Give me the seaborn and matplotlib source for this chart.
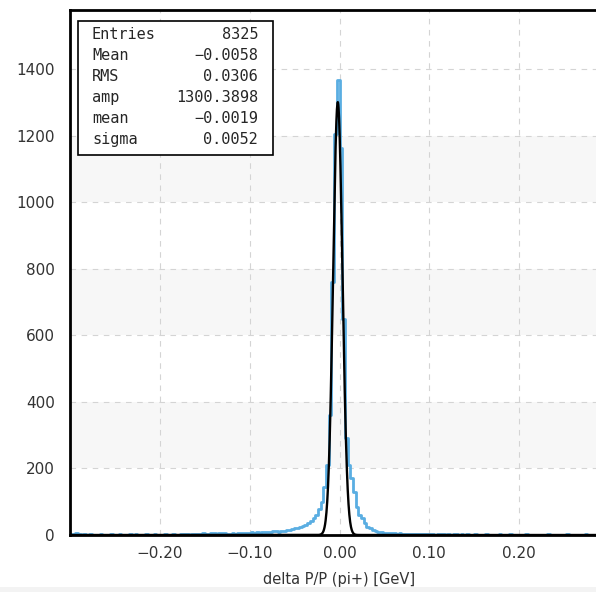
import numpy as np
import pandas as pd
import seaborn as sns
import matplotlib.pyplot as plt
from matplotlib.patches import Rectangle

# histogram: 200 bins from -0.3 to 0.3 (counts)
x_lo, x_hi, n_bins = -0.3, 0.3, 200
counts = [
    2, 3, 6, 4, 1, 2, 1, 2, 1, 0,
    1, 2, 1, 1, 0, 2, 1, 1, 3, 1,
    1, 0, 2, 1, 2, 1, 0, 1, 2, 1,
    1, 2, 1, 0, 1, 2, 1, 1, 2, 1,
    1, 2, 3, 2, 1, 2, 2, 3, 4, 5,
    3, 4, 6, 5, 4, 7, 6, 5, 4, 3,
    5, 4, 6, 5, 7, 6, 5, 8, 6, 9,
    7, 9, 8, 10, 9, 11, 12, 10, 13, 12,
    14, 15, 18, 20, 22, 24, 26, 30, 36, 42,
    50, 60, 78, 100, 145, 210, 360, 760, 1206, 1367,
    1161, 650, 290, 210, 170, 130, 84, 60, 50, 35,
    25, 20, 15, 12, 9, 8, 7, 6, 6, 5,
    5, 4, 5, 3, 4, 3, 4, 3, 2, 3,
    2, 3, 2, 2, 3, 1, 2, 3, 2, 1,
    2, 1, 2, 2, 1, 2, 1, 2, 1, 1,
    2, 1, 0, 1, 2, 1, 1, 0, 1, 2,
    1, 1, 0, 2, 1, 1, 0, 1, 1, 2,
    1, 0, 1, 1, 0, 1, 1, 2, 1, 0,
    1, 1, 0, 1, 2, 1, 0, 1, 1, 0,
    1, 2, 1, 0, 1, 1, 0, 1, 1, 0,
]

# gaussian fit result
fit_amp, fit_mean, fit_sigma = 1300.3898, -0.0019, 0.0052

stat_names = ["Entries", "Mean", "RMS", "amp", "mean", "sigma"]
stat_values = ["8325", "\u22120.0058", "0.0306", "1300.3898", "\u22120.0019", "0.0052"]

x_ticks = [-0.2, -0.1, 0.0, 0.1, 0.2]
x_tick_labels = ["\u22120.20", "\u22120.10", "0.00", "0.10", "0.20"]
y_ticks = [0, 200, 400, 600, 800, 1000, 1200, 1400]
bands = [(200, 400), (600, 800), (1000, 1200)]

blue = "#5aaee2"

sns.set_theme(style="white")
plt.rcParams["font.family"] = ["DejaVu Sans"]

fig = plt.figure(figsize=(5.96, 5.92), dpi=100)
ax = fig.add_axes([70 / 596, 57 / 592, 539 / 596, 525 / 592])

# light bands behind the plot
for lo, hi in bands:
    ax.axhspan(lo, hi, color="#f7f7f7", lw=0, zorder=0)

edges = np.linspace(x_lo, x_hi, n_bins + 1)
df = pd.DataFrame({"x": (edges[:-1] + edges[1:]) / 2, "n": counts})
sns.histplot(data=df, x="x", weights="n", bins=n_bins, binrange=(x_lo, x_hi),
             element="step", fill=False, color=blue, linewidth=2.0, ax=ax, zorder=2)

# fit curve
xs = np.linspace(x_lo, x_hi, 2000)
ys = fit_amp * np.exp(-0.5 * ((xs - fit_mean) / fit_sigma) ** 2)
sns.lineplot(x=xs, y=ys, color="black", linewidth=1.7, ax=ax, zorder=3)

ax.set_xlim(x_lo, x_hi)
ax.set_ylim(0, 1577)
ax.set_xticks(x_ticks)
ax.set_xticklabels(x_tick_labels)
ax.set_yticks(y_ticks)

ax.grid(True, ls=(0, (5, 5)), color="#d4d4d4", lw=0.8)
ax.set_axisbelow(True)
ax.tick_params(direction="in", length=5, width=2, labelsize=11,
               color="black", labelcolor="#333333")
ax.tick_params(axis="y", pad=11)
ax.tick_params(axis="x", pad=8)
for s in ax.spines.values():
    s.set_linewidth(2)
    s.set_color("black")
    s.set_zorder(5)

ax.set_xlabel("delta P/P (pi+) [GeV]", fontsize=10.5, color="#333333", labelpad=8)
ax.set_ylabel("")

# stats box
ax.add_patch(Rectangle((0.0143, 0.7238), 0.3617, 0.2558, transform=ax.transAxes,
                       facecolor="white", edgecolor="black", lw=1.2, zorder=6))
for k, (name, val) in enumerate(zip(stat_names, stat_values)):
    yy = (535 - (34.5 + 21 * k)) / 525
    ax.text(0.0408, yy, name, transform=ax.transAxes, ha="left", va="center",
            family="DejaVu Sans Mono", fontsize=11, zorder=7)
    ax.text(0.3488, yy, val, transform=ax.transAxes, ha="right", va="center",
            family="DejaVu Sans Mono", fontsize=11, zorder=7)

# light strip along the bottom edge
fig.patches.append(Rectangle((0, 0), 1, 5 / 592, transform=fig.transFigure,
                             facecolor="#f3f3f3", lw=0))

fig.savefig("out.png", dpi=100)
